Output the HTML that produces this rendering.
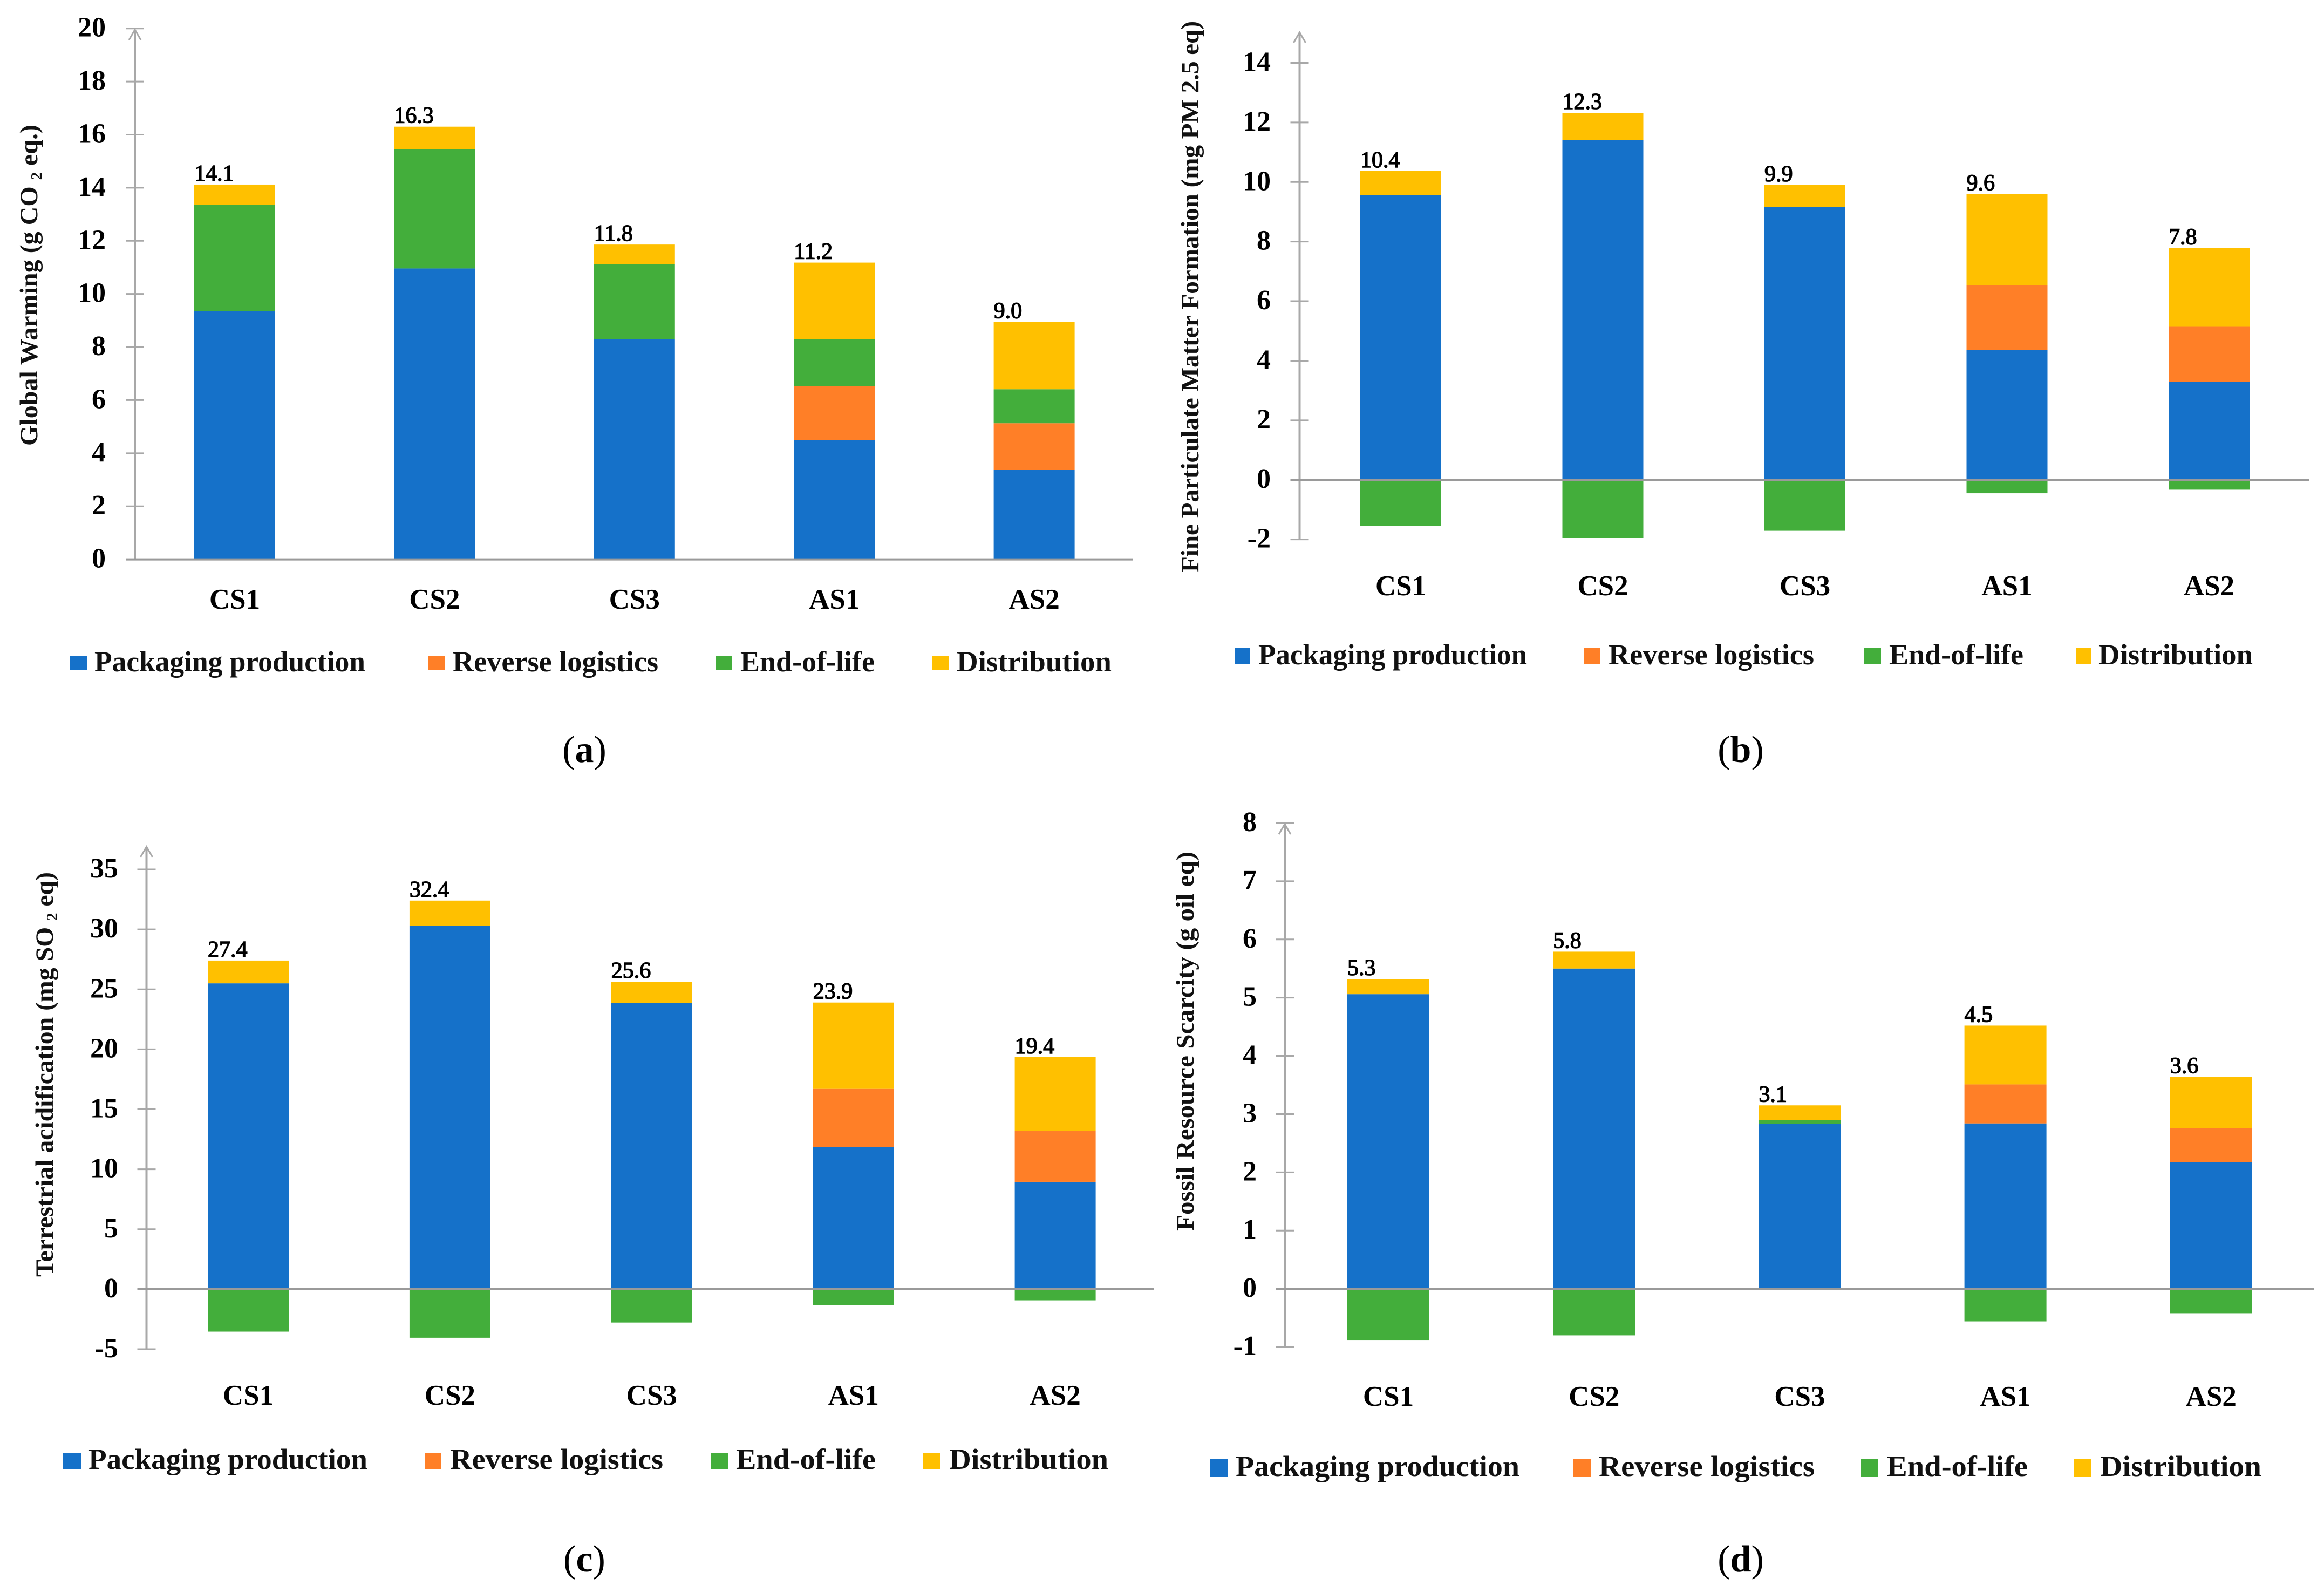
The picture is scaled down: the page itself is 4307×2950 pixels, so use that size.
<!DOCTYPE html>
<html lang="en">
<head>
<meta charset="utf-8">
<title>Packaging life cycle impact charts</title>
<style>
  html, body { margin: 0; padding: 0; background: #fff; }
  svg { display: block; }
  text { font-family: "Liberation Serif", serif; fill: #000; }
  .legend-text { font-size: 54px; font-weight: bold; fill: #111; }
  .axis-title { font-size: 47px; font-weight: bold; fill: #111; }
  .caption { font-size: 70px; }
  .caption b { font-weight: bold; }
</style>
</head>
<body>
<svg id="figure" xmlns="http://www.w3.org/2000/svg" width="4307" height="2950" viewBox="0 0 4307 2950">
  <rect width="4307" height="2950" fill="#fff"/>

  <g id="chart-a">
    <text class="axis-title" transform="translate(69,826) rotate(-90)" textLength="595" lengthAdjust="spacingAndGlyphs">Global Warming (g CO <tspan font-size="28" dy="8">2</tspan><tspan dy="-8"> eq.)</tspan></text>
    <g>
      <rect x="130" y="1215" width="32" height="27" fill="#1571C9"/>
      <text class="legend-text" x="175" y="1244" textLength="502" lengthAdjust="spacingAndGlyphs">Packaging production</text>
      <rect x="794" y="1215" width="31" height="27" fill="#FF7F27"/>
      <text class="legend-text" x="839" y="1244" textLength="381" lengthAdjust="spacingAndGlyphs">Reverse logistics</text>
      <rect x="1327" y="1215" width="29" height="27" fill="#43AE3B"/>
      <text class="legend-text" x="1372" y="1244" textLength="249" lengthAdjust="spacingAndGlyphs">End-of-life</text>
      <rect x="1728" y="1215" width="31" height="27" fill="#FFC000"/>
      <text class="legend-text" x="1773" y="1244" textLength="287" lengthAdjust="spacingAndGlyphs">Distribution</text>
    </g>
    <text class="caption" x="1083" y="1412" text-anchor="middle">(<tspan font-weight="bold">a</tspan>)</text>
  </g>

  <g id="chart-b">
    <text class="axis-title" transform="translate(2221,1060) rotate(-90)" textLength="1021" lengthAdjust="spacingAndGlyphs">Fine Particulate Matter Formation (mg PM 2.5 eq)</text>
    <g>
      <rect x="2288" y="1200" width="29" height="31" fill="#1571C9"/>
      <text class="legend-text" x="2332" y="1231" textLength="498" lengthAdjust="spacingAndGlyphs">Packaging production</text>
      <rect x="2935" y="1200" width="31" height="31" fill="#FF7F27"/>
      <text class="legend-text" x="2981" y="1231" textLength="381" lengthAdjust="spacingAndGlyphs">Reverse logistics</text>
      <rect x="3455" y="1200" width="31" height="31" fill="#43AE3B"/>
      <text class="legend-text" x="3501" y="1231" textLength="249" lengthAdjust="spacingAndGlyphs">End-of-life</text>
      <rect x="3848" y="1200" width="28" height="31" fill="#FFC000"/>
      <text class="legend-text" x="3889" y="1231" textLength="286" lengthAdjust="spacingAndGlyphs">Distribution</text>
    </g>
    <text class="caption" x="3226" y="1412" text-anchor="middle">(<tspan font-weight="bold">b</tspan>)</text>
  </g>

  <g id="chart-c">
    <text class="axis-title" transform="translate(98,2366) rotate(-90)" textLength="750" lengthAdjust="spacingAndGlyphs">Terrestrial acidification (mg SO <tspan font-size="28" dy="8">2</tspan><tspan dy="-8"> eq)</tspan></text>
    <g>
      <rect x="117" y="2693" width="33" height="30" fill="#1571C9"/>
      <text class="legend-text" x="164" y="2722" textLength="517" lengthAdjust="spacingAndGlyphs">Packaging production</text>
      <rect x="787" y="2693" width="30" height="30" fill="#FF7F27"/>
      <text class="legend-text" x="834" y="2722" textLength="395" lengthAdjust="spacingAndGlyphs">Reverse logistics</text>
      <rect x="1318" y="2693" width="31" height="30" fill="#43AE3B"/>
      <text class="legend-text" x="1364" y="2722" textLength="259" lengthAdjust="spacingAndGlyphs">End-of-life</text>
      <rect x="1711" y="2693" width="32" height="30" fill="#FFC000"/>
      <text class="legend-text" x="1759" y="2722" textLength="295" lengthAdjust="spacingAndGlyphs">Distribution</text>
    </g>
    <text class="caption" x="1083" y="2912" text-anchor="middle">(<tspan font-weight="bold">c</tspan>)</text>
  </g>

  <g id="chart-d">
    <text class="axis-title" transform="translate(2212,2281) rotate(-90)" textLength="703" lengthAdjust="spacingAndGlyphs">Fossil Resource Scarcity (g oil eq)</text>
    <g>
      <rect x="2242" y="2703" width="33" height="33" fill="#1571C9"/>
      <text class="legend-text" x="2290" y="2735" textLength="526" lengthAdjust="spacingAndGlyphs">Packaging production</text>
      <rect x="2915" y="2703" width="33" height="33" fill="#FF7F27"/>
      <text class="legend-text" x="2963" y="2735" textLength="400" lengthAdjust="spacingAndGlyphs">Reverse logistics</text>
      <rect x="3449" y="2703" width="31" height="33" fill="#43AE3B"/>
      <text class="legend-text" x="3497" y="2735" textLength="261" lengthAdjust="spacingAndGlyphs">End-of-life</text>
      <rect x="3843" y="2703" width="32" height="33" fill="#FFC000"/>
      <text class="legend-text" x="3892" y="2735" textLength="299" lengthAdjust="spacingAndGlyphs">Distribution</text>
    </g>
    <text class="caption" x="3226" y="2912" text-anchor="middle">(<tspan font-weight="bold">d</tspan>)</text>
  </g>
</svg>

<script>
const categories = ["CS1", "CS2", "CS3", "AS1", "AS2"];

const aTicks = ["0", "2", "4", "6", "8", "10", "12", "14", "16", "18", "20"];
const aPackaging = [9.36, 10.96, 8.29, 4.49, 3.38];
const aReverse = [0, 0, 0, 2.03, 1.75];
const aEndOfLife = [3.99, 4.49, 2.84, 1.77, 1.28];
const aDistribution = [0.77, 0.85, 0.73, 2.89, 2.54];
const aTotals = ["14.1", "16.3", "11.8", "11.2", "9.0"];

const bTicks = ["-2", "0", "2", "4", "6", "8", "10", "12", "14"];
const bPackaging = [9.56, 11.41, 9.16, 4.36, 3.29];
const bReverse = [0, 0, 0, 2.17, 1.85];
const bEndOfLife = [-1.54, -1.94, -1.71, -0.45, -0.33];
const bDistribution = [0.81, 0.91, 0.74, 3.07, 2.65];
const bTotals = ["10.4", "12.3", "9.9", "9.6", "7.8"];

const cTicks = ["-5", "0", "5", "10", "15", "20", "25", "30", "35"];
const cPackaging = [25.5, 30.3, 23.86, 11.85, 8.95];
const cReverse = [0, 0, 0, 4.85, 4.25];
const cEndOfLife = [-3.54, -4.05, -2.78, -1.31, -0.93];
const cDistribution = [1.9, 2.1, 1.77, 7.2, 6.15];
const cTotals = ["27.4", "32.4", "25.6", "23.9", "19.4"];

const dTicks = ["-1", "0", "1", "2", "3", "4", "5", "6", "7", "8"];
const dPackaging = [5.06, 5.5, 2.83, 2.84, 2.17];
const dReverse = [0, 0, 0, 0.67, 0.59];
const dEndOfLife = [-0.88, -0.8, 0.07, -0.56, -0.42];
const dDistribution = [0.26, 0.29, 0.25, 1.01, 0.88];
const dTotals = ["5.3", "5.8", "3.1", "4.5", "3.6"];

const SVG_NS = "http://www.w3.org/2000/svg";
const SERIES_COLORS = { packaging: "#1571C9", reverse: "#FF7F27", eol: "#43AE3B", distribution: "#FFC000" };

function drawChart(groupId, geo, ticks, packaging, reverse, endOfLife, distribution, totals) {
  const group = document.getElementById(groupId);
  const tickValues = ticks.map(Number);
  const vMin = tickValues[0];
  const vMax = tickValues[tickValues.length - 1];
  const yScale = v => geo.yBottom + (v - vMin) * (geo.yTop - geo.yBottom) / (vMax - vMin);
  const xCenter = i => geo.x0 + i * geo.step;

  function line(x1, y1, x2, y2, width, color) {
    const l = document.createElementNS(SVG_NS, "line");
    l.setAttribute("x1", x1);
    l.setAttribute("y1", y1);
    l.setAttribute("x2", x2);
    l.setAttribute("y2", y2);
    l.setAttribute("stroke", color);
    l.setAttribute("stroke-width", width);
    return l;
  }

  // Bars
  categories.forEach((cat, i) => {
    const stack = [
      ["packaging", packaging[i]],
      ["reverse", reverse[i]],
      ["eol", endOfLife[i]],
      ["distribution", distribution[i]]
    ];
    let up = 0;
    let down = 0;
    stack.forEach(([key, value]) => {
      if (value === 0) return;
      const start = value > 0 ? up : down;
      const end = start + value;
      if (value > 0) up = end; else down = end;
      const rect = document.createElementNS(SVG_NS, "rect");
      
      
      rect.setAttribute("x", xCenter(i) - geo.barWidth / 2);
      rect.setAttribute("width", geo.barWidth);
      rect.setAttribute("y", Math.min(yScale(start), yScale(end)));
      rect.setAttribute("height", Math.abs(yScale(end) - yScale(start)));
      rect.setAttribute("fill", SERIES_COLORS[key]);
      group.appendChild(rect);
    });

    const total = document.createElementNS(SVG_NS, "text");
    
    
    total.setAttribute("x", xCenter(i) - geo.barWidth / 2);
    total.setAttribute("y", yScale(up) - 7);
    total.setAttribute("font-size", "42");
    total.setAttribute("stroke", "#000");
    total.setAttribute("stroke-width", "1.4");
    total.textContent = totals[i];
    group.appendChild(total);

    const catLabel = document.createElementNS(SVG_NS, "text");
    
    
    catLabel.setAttribute("x", xCenter(i));
    catLabel.setAttribute("y", geo.catBaseline);
    catLabel.setAttribute("text-anchor", "middle");
    catLabel.setAttribute("font-size", "53");
    catLabel.setAttribute("font-weight", "bold");
    catLabel.textContent = cat;
    group.appendChild(catLabel);
  });

  // Y axis
  const yAxis = line(geo.axisX, geo.arrowTop, geo.axisX, geo.yBottom, 4, "#a8a8a8");
  
  
  group.appendChild(yAxis);

  const arrow = document.createElementNS(SVG_NS, "path");
  
  
  arrow.setAttribute("d", "M" + (geo.axisX - 11) + " " + (geo.arrowTop + 19) + "L" + geo.axisX + " " + geo.arrowTop + "L" + (geo.axisX + 11) + " " + (geo.arrowTop + 19));
  arrow.setAttribute("fill", "none");
  arrow.setAttribute("stroke", "#a8a8a8");
  arrow.setAttribute("stroke-width", "3");
  group.appendChild(arrow);

  // Ticks
  ticks.forEach((label, i) => {
    const y = yScale(tickValues[i]);
    const tick = line(geo.axisX - 17, y, geo.axisX + 17, y, 3, "#a8a8a8");
    
    
    group.appendChild(tick);

    const text = document.createElementNS(SVG_NS, "text");
    
    
    text.setAttribute("x", geo.tickRight);
    text.setAttribute("y", y + 15);
    text.setAttribute("text-anchor", "end");
    text.setAttribute("font-size", "52");
    text.setAttribute("font-weight", "bold");
    text.textContent = label;
    group.appendChild(text);
  });

  // Zero line
  const xAxis = line(geo.axisX - 17, yScale(0), geo.xEnd, yScale(0), 4, "#9a9a9a");
  
  
  group.appendChild(xAxis);
}

drawChart("chart-a",
  { axisX: 250, xEnd: 2100, yTop: 52.7, yBottom: 1036.6, arrowTop: 55, x0: 435, step: 370.4, barWidth: 150, tickRight: 196, catBaseline: 1128 },
  aTicks, aPackaging, aReverse, aEndOfLife, aDistribution, aTotals);

drawChart("chart-b",
  { axisX: 2408.5, xEnd: 4280, yTop: 116.5, yBottom: 999.6, arrowTop: 60, x0: 2596, step: 374.5, barWidth: 150, tickRight: 2355, catBaseline: 1103 },
  bTicks, bPackaging, bReverse, bEndOfLife, bDistribution, bTotals);

drawChart("chart-c",
  { axisX: 271.5, xEnd: 2139, yTop: 1611, yBottom: 2500, arrowTop: 1569, x0: 460, step: 373.9, barWidth: 150, tickRight: 219, catBaseline: 2603 },
  cTicks, cPackaging, cReverse, cEndOfLife, cDistribution, cTotals);

drawChart("chart-d",
  { axisX: 2381, xEnd: 4289, yTop: 1525, yBottom: 2496, arrowTop: 1527, x0: 2573, step: 381.2, barWidth: 152, tickRight: 2329, catBaseline: 2605 },
  dTicks, dPackaging, dReverse, dEndOfLife, dDistribution, dTotals);
</script>
</body>
</html>
